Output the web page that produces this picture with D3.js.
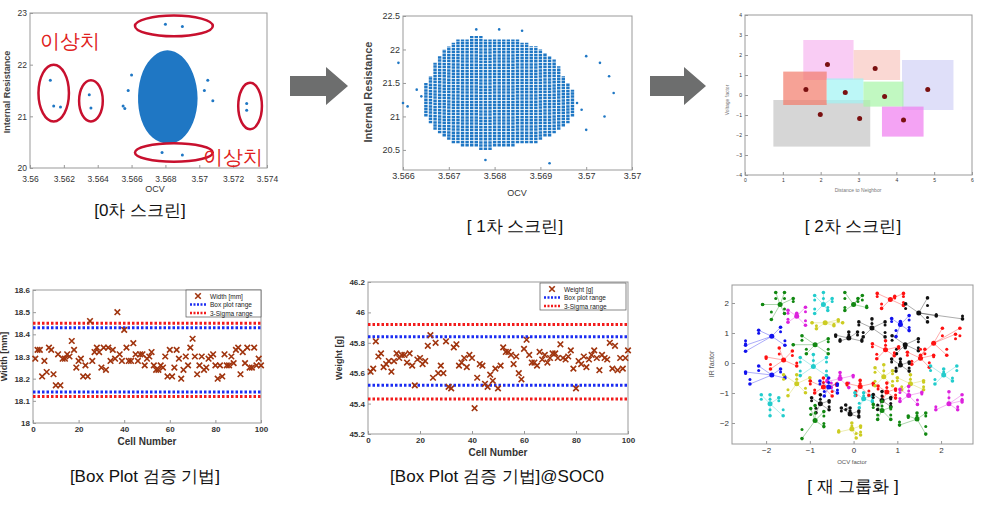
<!DOCTYPE html>
<html><head><meta charset="utf-8">
<script src="https://cdn.jsdelivr.net/npm/d3@7"></script>
<style>body{margin:0;background:#fff}text{font-family:Arial,"Liberation Sans",sans-serif}</style>
</head><body><svg id="c" width="992" height="512"></svg>
<script>
// ---- data ----
var ocvTicks0 = [3.56,3.562,3.564,3.566,3.568,3.57,3.572,3.574];
var irTicks0 = [20,21,22,23];
var blob0 = [[3.5681,22.32],[3.5690,22.2],[3.5697,21.85],[3.5700,21.35],[3.5697,20.85],[3.5690,20.52],[3.5681,20.45],[3.5672,20.55],[3.5665,20.9],[3.5663,21.4],[3.5666,21.9],[3.5673,22.2]];
var outliers0 = [[3.5612,21.7],[3.5614,21.2],[3.5618,21.18],[3.5635,21.42],[3.5636,21.16],[3.5728,21.25],[3.5728,21.12],[3.5680,22.78],[3.5690,22.74],[3.5678,20.3],[3.5690,20.25],[3.5655,21.2],[3.5656,21.15],[3.5703,21.5],[3.5660,21.8],[3.5705,21.7],[3.5658,21.5],[3.5708,21.3]];
var rings0 = [[3.5614,21.45,0.0009,0.55],[3.5636,21.3,0.0007,0.4],[3.5730,21.2,0.0007,0.45],[3.5685,22.75,0.0023,0.2],[3.5685,20.3,0.0023,0.18]];

var ocvTicks1 = [3.566,3.567,3.568,3.569,3.57,3.571];
var irTicks1 = [20.5,21,21.5,22,22.5];
var cols1 = [[3.5665,21.0,21.5],[3.5666,20.9,21.6],[3.5667,20.8,21.8],[3.5668,20.75,21.9],[3.5669,20.7,22.0],[3.5670,20.65,22.05],[3.5671,20.6,22.1],[3.5672,20.6,22.15],[3.5673,20.55,22.15],[3.5674,20.55,22.15],[3.5675,20.55,22.2],[3.5676,20.55,22.2],[3.5677,20.5,22.2],[3.5678,20.5,22.15],[3.5679,20.5,22.15],[3.5680,20.55,22.15],[3.5681,20.55,22.15],[3.5682,20.55,22.15],[3.5683,20.55,22.15],[3.5684,20.55,22.15],[3.5685,20.6,22.15],[3.5686,20.6,22.1],[3.5687,20.6,22.1],[3.5688,20.6,22.05],[3.5689,20.6,22.05],[3.5690,20.65,22.0],[3.5691,20.7,21.95],[3.5692,20.7,21.9],[3.5693,20.75,21.85],[3.5694,20.8,21.75],[3.5695,20.85,21.6],[3.5696,20.9,21.5],[3.5697,21.0,21.4]];
var stray1 = [[3.5660,21.2],[3.5661,21.15],[3.5663,21.4],[3.5664,21.3],[3.5659,21.8],[3.5676,22.3],[3.5681,22.3],[3.5686,22.28],[3.5678,20.35],[3.5692,20.3],[3.5700,21.9],[3.5703,21.8],[3.5705,21.6],[3.5706,21.35],[3.5704,21.0],[3.5700,20.8],[3.5699,21.1],[3.5698,21.2]];

var boxes2 = [[1.54,2.87,2.75,0.75,"#f7b6f0"],[2.87,4.1,2.25,0.75,"#f8c8c0"],[4.15,5.51,1.75,-0.75,"#d2d2f7"],[0.75,3.31,-0.25,-2.58,"#c4c4c4"],[1.01,2.16,1.17,-0.5,"#f27a6a"],[2.16,3.13,0.83,-0.42,"#9ff4f4"],[3.13,4.19,0.67,-0.58,"#a6f5a6"],[3.62,4.72,-0.58,-2.08,"#f07cf0"]];
var cent2 = [[1.61,0.28],[2.18,1.53],[2.65,0.13],[3.44,1.33],[3.69,-0.08],[4.83,0.28],[1.99,-0.97],[3.03,-1.17],[4.19,-1.25]];

var cells = d3.range(1,101);
var width = [18.29,18.33,18.33,18.21,18.28,18.23,18.34,18.33,18.22,18.17,18.31,18.17,18.29,18.29,18.31,18.30,18.37,18.33,18.25,18.28,18.29,18.21,18.26,18.21,18.46,18.28,18.32,18.34,18.32,18.25,18.34,18.24,18.34,18.28,18.33,18.29,18.50,18.31,18.28,18.42,18.34,18.28,18.28,18.36,18.31,18.28,18.31,18.31,18.26,18.29,18.30,18.32,18.26,18.24,18.24,18.26,18.25,18.30,18.21,18.33,18.21,18.25,18.33,18.29,18.20,18.24,18.30,18.26,18.34,18.38,18.30,18.22,18.26,18.30,18.24,18.25,18.29,18.30,18.31,18.26,18.20,18.26,18.21,18.31,18.26,18.26,18.30,18.27,18.33,18.34,18.22,18.32,18.27,18.34,18.25,18.25,18.34,18.26,18.29,18.26];
var widthBox = [18.43,18.14], widthSigma = [18.45,18.12];
var weight = [45.61,45.63,45.81,45.71,45.73,45.64,45.66,45.68,45.61,45.68,45.73,45.70,45.72,45.72,45.67,45.73,45.65,45.52,45.69,45.70,45.66,45.68,45.78,45.85,45.57,45.80,45.60,45.65,45.60,45.81,45.51,45.50,45.77,45.79,45.65,45.67,45.70,45.64,45.72,45.70,45.37,45.57,45.66,45.65,45.53,45.51,45.59,45.55,45.63,45.50,45.65,45.77,45.74,45.74,45.72,45.66,45.71,45.60,45.56,45.76,45.82,45.72,45.67,45.67,45.65,45.74,45.69,45.72,45.67,45.70,45.73,45.73,45.70,45.79,45.70,45.69,45.71,45.75,45.63,45.50,45.68,45.66,45.71,45.64,45.69,45.72,45.75,45.70,45.62,45.72,45.70,45.69,45.80,45.63,45.78,45.62,45.70,45.63,45.70,45.75];
var weightBox = [45.84,45.52], weightSigma = [45.92,45.43];

// regroup clusters: colour, centre x, centre y, then member offsets dx,dy
var groups = [
 ["g",-1.68,1.95,-0.4,0,-0.1,0.4,0.1,0.4,0.3,0.2,-0.2,-0.5,0.1,-0.3],
 ["m",-1.30,1.56,-0.2,0.2,-0.2,-0.2,0.2,0.3,0.2,-0.3,0,0.1],
 ["c",-0.69,1.95,-0.2,0.3,-0.2,-0.3,0.2,0.2,0.1,-0.2,0,0.4],
 ["y",-0.65,1.34,-0.3,0,0.3,0.1,-0.2,-0.2,0.2,-0.1,0.4,0],
 ["g",0,1.95,-0.2,0.4,0.2,0.3,-0.2,-0.2,0.3,-0.1,0.1,0.2],
 ["r",0.84,2.12,-0.3,0.2,0.3,0.2,-0.2,-0.3,0.3,-0.2,0.1,0.1],
 ["k",1.49,1.67,-0.3,0.3,0.2,0.5,1.0,-0.2,0.4,-0.1,0.2,-0.3],
 ["b",-1.87,0.89,-0.6,-0.3,-0.3,0.2,0.2,0.3,0.3,-0.3,-0.6,-0.5],
 ["g",-0.88,0.61,-0.3,0.3,0.3,0.2,-0.2,-0.3,0.3,-0.3,-0.5,0],
 ["k",-0.11,0.83,-0.3,0.1,0.3,-0.1,0.2,0.2,-0.2,-0.1,0,0.2],
 ["k",0.42,1.17,-0.3,0.2,0.3,0.2,-0.2,-0.3,0.3,-0.3,0,0.3],
 ["b",1.07,1.28,-0.2,0.2,0.2,-0.2,-0.1,-0.4,0.2,0.3,0,0.1],
 ["k",1.18,0.61,-0.3,0.3,0.3,0.2,-0.2,-0.3,0.3,-0.2,0,-0.1],
 ["r",1.83,0.66,-0.3,-0.4,0.2,0.5,0.5,0.3,0.3,-0.4,0.6,0.5],
 ["r",-1.60,0.10,-0.3,-0.3,0.2,0.3,-0.1,0.4,0.3,-0.2,-0.4,0.1],
 ["c",-0.92,-0.12,-0.3,0.3,0.3,0.3,-0.3,-0.3,0.3,-0.3,0,0.4],
 ["r",0.73,0.44,-0.3,0.2,0.3,0.1,-0.2,-0.3,0.2,-0.2,0,0.3],
 ["r",1.53,0.16,-0.3,0.2,0.3,0.1,-0.2,-0.2,0.2,-0.3,0.1,0.3],
 ["k",1.07,-0.07,-0.2,0.2,0.2,0.1,-0.1,-0.2,0.2,-0.2,0,0.2],
 ["b",-1.87,-0.40,-0.6,0.1,-0.5,-0.3,0.2,0.2,0.3,-0.1,-0.3,0.3],
 ["y",-1.30,-0.69,-0.3,0.3,0.3,0.2,-0.2,-0.4,0.2,-0.3,0,0.3],
 ["m",-0.31,-0.52,-0.3,-0.1,0.3,0.1,-0.2,-0.3,0.2,-0.3,0,0.2],
 ["r",-0.69,-0.80,-0.3,0.2,0.3,0.1,-0.2,-0.2,0.2,-0.3,0,0.3],
 ["r",0.15,-0.78,-0.3,0.1,0.3,0.1,-0.1,-0.3,0.2,-0.3,0,0.2],
 ["y",0.69,-0.46,-0.2,0.3,0.2,0.2,-0.2,-0.3,0.2,-0.3,0,0.4],
 ["y",1.30,-0.69,-0.3,0.2,0.3,0.1,-0.2,-0.2,0.3,-0.2,0,0.3],
 ["c",2.06,-0.40,-0.3,0.3,0.3,0.3,-0.2,-0.3,0.2,-0.2,0,0.2],
 ["r",0.76,-0.97,-0.2,0.2,0.2,0.1,-0.1,-0.3,0.2,-0.2,0,0.3],
 ["m",1.26,-1.08,-0.2,0.2,0.3,0.1,-0.2,-0.2,0.2,-0.3,0,0.3],
 ["c",0.23,-1.19,-0.2,0.2,0.2,0.1,-0.1,-0.3,0.2,-0.1,0,0.2],
 ["k",0.65,-1.25,-0.2,0.2,0.2,0.1,-0.1,-0.3,0.2,-0.2,0,0.3],
 ["c",-1.91,-1.36,-0.2,0.3,0.2,0.2,0,-0.4,0.3,-0.4,0,0.3],
 ["k",-0.76,-1.36,-0.2,0.2,0.2,0.1,-0.1,-0.3,0.2,-0.2,0,0.3],
 ["k",-0.08,-1.70,-0.2,0.2,0.2,0.1,-0.1,0.3,0.2,-0.1,0,0.2],
 ["g",-0.88,-1.92,-0.3,-0.6,0.2,0.3,-0.1,0.4,0.2,-0.2,0,0.5],
 ["g",0.65,-1.58,-0.2,0.2,0.2,0.1,-0.1,-0.3,0.2,-0.3,0,0.3],
 ["g",1.45,-1.87,-0.4,-0.2,0.2,0.2,-0.2,0.1,0.2,-0.5,0,0.2],
 ["y",-0.04,-2.20,-0.3,-0.1,0.2,0.1,0.1,-0.3,0.2,-0.2,0,0.2],
 ["m",2.18,-1.36,-0.3,-0.2,0.3,0.1,0.2,-0.2,0.3,0.3,0,0.4],
 ["b",-0.57,-0.80,-0.2,0.2,0.2,0.1,-0.1,-0.3,0.2,-0.2,0,0.3]];
var groupColor = {g:"#118811",m:"#dd22dd",c:"#22cccc",y:"#cccc22",r:"#ff1111",k:"#111111",b:"#1111ee"};

var captions = [["[0차 스크린]",140,216],["[ 1차 스크린]",515,232],["[ 2차 스크린]",853,232],["[Box Plot 검증 기법]",145,482],["[Box Plot 검증 기법]@SOC0",497,482],["[ 재 그룹화 ]",853,492]];

// ---- drawing ----
var svg = d3.select("#c");
var blue = "#1f77c4";

function frame(x, y, xt, yt, fmtX, fmtY, fs) {
  var g = svg.append("g");
  g.append("rect").attr("x", x.range()[0]).attr("y", y.range()[1])
    .attr("width", x.range()[1]-x.range()[0]).attr("height", y.range()[0]-y.range()[1])
    .attr("fill", "none").attr("stroke", "#999");
  g.append("g").attr("class","xa").attr("transform","translate(0,"+y.range()[0]+")")
    .call(d3.axisBottom(x).tickValues(xt).tickFormat(fmtX).tickSize(-3).tickSizeOuter(0));
  g.append("g").attr("transform","translate("+x.range()[0]+",0)")
    .call(d3.axisLeft(y).tickValues(yt).tickFormat(fmtY).tickSize(-3).tickSizeOuter(0));
  g.selectAll(".domain").remove();
  g.selectAll(".tick line").attr("stroke","#999");
  g.selectAll(".tick text").attr("font-size", fs).attr("fill","#333");
  return g;
}

// panel 0
var x0 = d3.scaleLinear().domain([3.56,3.574]).range([30,267]);
var y0 = d3.scaleLinear().domain([20,23]).range([168,13]);
frame(x0, y0, ocvTicks0, irTicks0, d3.format(""), d3.format(""), 8.5)
  .select(".xa").selectAll(".tick text").attr("dy","1.3em");
svg.append("path").datum(blob0).attr("d", d3.line().curve(d3.curveBasisClosed).x(d=>x0(d[0])).y(d=>y0(d[1])))
  .attr("fill", blue);
svg.append("g").selectAll("circle").data(outliers0).join("circle")
  .attr("cx",d=>x0(d[0])).attr("cy",d=>y0(d[1])).attr("r",1.5).attr("fill",blue);
svg.append("g").selectAll("ellipse").data(rings0).join("ellipse")
  .attr("cx",d=>x0(d[0])).attr("cy",d=>y0(d[1]))
  .attr("rx",d=>x0(d[0]+d[2])-x0(d[0])).attr("ry",d=>y0(d[1])-y0(d[1]+d[3]))
  .attr("fill","none").attr("stroke","#c8102e").attr("stroke-width",2.5);
svg.append("text").attr("x",40).attr("y",48).text("이상치").attr("fill","#e02020").attr("font-size",20).attr("font-family","Noto Sans CJK KR");
svg.append("text").attr("x",203).attr("y",164).text("이상치").attr("fill","#e02020").attr("font-size",20).attr("font-family","Noto Sans CJK KR");
svg.append("text").attr("x",155).attr("y",192).attr("text-anchor","middle").attr("font-size",9).attr("fill","#333").text("OCV");
svg.append("text").attr("transform","translate(10,92) rotate(-90)").attr("text-anchor","middle").attr("font-size",9).attr("font-weight","bold").attr("fill","#444").text("Internal Resistance");

// panel 1
var x1 = d3.scaleLinear().domain([3.566,3.571]).range([403,632]);
var y1 = d3.scaleLinear().domain([20.2,22.5]).range([170,16]);
frame(x1, y1, ocvTicks1, irTicks1, d=>d===3.571?"3.57":d3.format("")(d), d3.format(""), 9);
svg.append("g").selectAll("line").data(cols1).join("line")
  .attr("x1",d=>x1(d[0])).attr("x2",d=>x1(d[0])).attr("y1",d=>y1(d[1])).attr("y2",d=>y1(d[2]))
  .attr("stroke",blue).attr("stroke-width",3.4).attr("stroke-dasharray","2.5,0.6");
svg.append("g").selectAll("circle").data(stray1).join("circle")
  .attr("cx",d=>x1(d[0])).attr("cy",d=>y1(d[1])).attr("r",1.3).attr("fill",blue);
svg.append("text").attr("x",517).attr("y",196).attr("text-anchor","middle").attr("font-size",9).attr("fill","#333").text("OCV");
svg.append("text").attr("transform","translate(372,92) rotate(-90)").attr("text-anchor","middle").attr("font-size",11).attr("font-weight","bold").attr("fill","#444").text("Internal Resistance");

// panel 2
var x2 = d3.scaleLinear().domain([0,6]).range([745,972]);
var y2 = d3.scaleLinear().domain([-4,4]).range([175,15]);
frame(x2, y2, [0,1,2,3,4,5,6], [-4,-3,-2,-1,0,1,2,3,4], d3.format(""), d3.format(""), 5);
svg.append("g").selectAll("rect").data(boxes2).join("rect")
  .attr("x",d=>x2(d[0])).attr("width",d=>x2(d[1])-x2(d[0]))
  .attr("y",d=>y2(d[2])).attr("height",d=>y2(d[3])-y2(d[2]))
  .attr("fill",d=>d[4]).attr("opacity",0.7);
svg.append("g").selectAll("circle").data(cent2).join("circle")
  .attr("cx",d=>x2(d[0])).attr("cy",d=>y2(d[1])).attr("r",2.5).attr("fill","#7a1010");
svg.append("text").attr("x",858).attr("y",192).attr("text-anchor","middle").attr("font-size",5).attr("fill","#777").text("Distance to Neighbor");
svg.append("text").attr("transform","translate(729,100) rotate(-90)").attr("text-anchor","middle").attr("font-size",5).attr("fill","#777").text("Voltage factor");

// arrows
[[290,348],[650,706]].forEach(function(a){
  var m = 86;
  svg.append("path").attr("fill","#6d6e6e")
    .attr("d","M"+a[0]+","+(m-10)+"H"+(a[1]-22)+"V"+(m-19)+"L"+a[1]+","+m+"L"+(a[1]-22)+","+(m+19)+"V"+(m+10)+"H"+a[0]+"Z");
});

// box plot panels
function boxPanel(vals, box, sig, x, y, yt, label, legendName, legX, legY, legW) {
  frame(x, y, [0,20,40,60,80,100], yt, d3.format(""), d3.format(""), 8)
    .selectAll(".tick text").attr("font-weight","bold");
  var line = function(v, c){ svg.append("line").attr("x1",x(0)).attr("x2",x(100)).attr("y1",y(v)).attr("y2",y(v))
    .attr("stroke",c).attr("stroke-width",3).attr("stroke-dasharray","2.5,2"); };
  line(sig[0],"#f21b1b"); line(sig[1],"#f21b1b"); line(box[0],"#1b2cf2"); line(box[1],"#1b2cf2");
  var cross = d3.symbol().type(d3.symbolX).size(22);
  svg.append("g").selectAll("path").data(vals).join("path")
    .attr("transform",(d,i)=>"translate("+x(cells[i])+","+y(d)+")").attr("d",cross)
    .attr("stroke","#a0340e").attr("stroke-width",1.6).attr("fill","none");
  var lg = svg.append("g").attr("transform","translate("+legX+","+legY+")");
  lg.append("rect").attr("width",legW).attr("height",27).attr("fill","#fff").attr("stroke","#555").attr("stroke-width",0.7);
  [[legendName,null],["Box plot range","#1b2cf2"],["3-Sigma range","#f21b1b"]].forEach(function(r,i){
    var yy = 6+i*8.5;
    if (r[1]) lg.append("line").attr("x1",4).attr("x2",20).attr("y1",yy).attr("y2",yy).attr("stroke",r[1]).attr("stroke-width",2.5).attr("stroke-dasharray","2,1.5");
    else lg.append("path").attr("transform","translate(12,"+yy+")").attr("d",cross).attr("stroke","#a0340e").attr("stroke-width",1.6);
    lg.append("text").attr("x",24).attr("y",yy+2.5).attr("font-size",6.5).attr("fill","#222").text(r[0]);
  });
  var cx = (x.range()[0]+x.range()[1])/2;
  svg.append("text").attr("x",cx).attr("y",y.range()[0]+22).attr("text-anchor","middle").attr("font-size",10).attr("font-weight","bold").attr("fill","#333").text("Cell Number");
  svg.append("text").attr("transform","translate("+(x.range()[0]-26)+","+((y.range()[0]+y.range()[1])/2)+") rotate(-90)")
    .attr("text-anchor","middle").attr("font-size",9).attr("font-weight","bold").attr("fill","#333").text(label);
}
boxPanel(width, widthBox, widthSigma, d3.scaleLinear().domain([0,100]).range([33,261]),
  d3.scaleLinear().domain([18,18.6]).range([423,290]), [18,18.1,18.2,18.3,18.4,18.5,18.6], "Width [mm]", "Width [mm]", 186, 290, 75);
boxPanel(weight, weightBox, weightSigma, d3.scaleLinear().domain([0,100]).range([368,628]),
  d3.scaleLinear().domain([45.2,46.2]).range([434,282]), [45.2,45.4,45.6,45.8,46,46.2], "Weight [g]", "Weight [g]", 540, 283, 86);

// regroup panel
var x3 = d3.scaleLinear().domain([-2.78,2.73]).range([732,973]);
var y3 = d3.scaleLinear().domain([-2.7,2.6]).range([444,285]);
frame(x3, y3, [-2,-1,0,1,2], [-2,-1,0,1,2], d=>d3.format("")(d).replace("-","−"), d=>d3.format("")(d).replace("-","−"), 8);
var gg = svg.append("g");
groups.forEach(function(g){
  var col = groupColor[g[0]], cx = g[1], cy = g[2];
  for (var i = 3; i < g.length; i += 2) {
    var px = cx+g[i], py = cy+g[i+1];
    gg.append("line").attr("x1",x3(cx)).attr("y1",y3(cy)).attr("x2",x3(px)).attr("y2",y3(py)).attr("stroke",col).attr("stroke-opacity",0.35).attr("stroke-width",1);
    gg.append("circle").attr("cx",x3(px)).attr("cy",y3(py)).attr("r",1.8).attr("fill",col);
    gg.append("circle").attr("cx",x3(px)).attr("cy",y3((py+cy)/2)).attr("r",1.5).attr("fill",col);
  }
  gg.append("circle").attr("cx",x3(cx)).attr("cy",y3(cy)).attr("r",2.5).attr("fill",col);
});
svg.append("text").attr("x",852).attr("y",464).attr("text-anchor","middle").attr("font-size",6).attr("fill","#555").text("OCV factor");
svg.append("text").attr("transform","translate(714,364) rotate(-90)").attr("text-anchor","middle").attr("font-size",7).attr("fill","#555").text("IR factor");

// captions
svg.append("g").selectAll("text").data(captions).join("text")
  .attr("x",d=>d[1]).attr("y",d=>d[2]).attr("text-anchor","middle").attr("font-size",17)
  .attr("font-family","Noto Sans CJK KR").attr("fill","#111").text(d=>d[0]);
</script></body></html>
